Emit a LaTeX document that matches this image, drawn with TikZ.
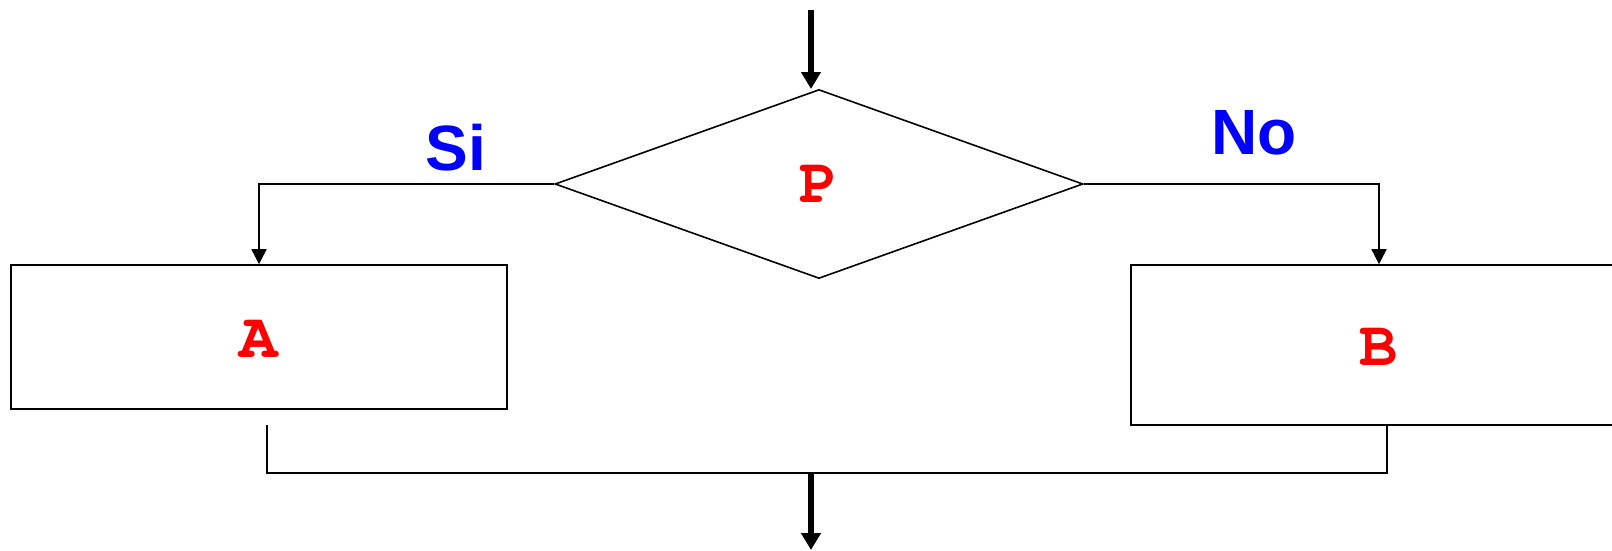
\documentclass[tikz,border=0pt]{standalone}
\usepackage{fontspec}
\newfontfamily\labfont{Liberation Sans}
\newfontfamily\codefont{texgyrecursor-bold.otf}
\usetikzlibrary{shapes.geometric,arrows.meta}
\tikzset{
  thin line/.style={line width=1.6pt},
  flow/.style={thin line,-{Triangle[length=15pt,width=15pt]}},
  mainflow/.style={line width=6pt,-{Triangle[length=17pt,width=19pt]}},
  decision/.style={diamond,draw,thin line,minimum width=528pt,minimum height=189pt,inner sep=0pt,aspect=2.79},
  procbox/.style={rectangle,draw,thin line,minimum width=496pt,inner sep=0pt},
  codetxt/.style={text=red,font=\codefont\fontsize{64}{64}\selectfont},
  branchlab/.style={text=blue,font=\labfont\bfseries\fontsize{64}{64}\selectfont,anchor=base,inner sep=0pt},
}
\begin{document}
\begin{tikzpicture}[x=1pt,y=-1pt]
\useasboundingbox (0,0) rectangle (1612,550);
\clip (0,0) rectangle (1612,550);
\fill[white] (0,0) rectangle (1612,550);
\node[decision] (P) at (819,184) {};
\node[codetxt,anchor=base] (Pt) at (819,202) {P};
\node[procbox,minimum height=144pt] (A) at (259,337) {};
\node[codetxt,anchor=base] (At) at (259,357) {A};
\node[procbox,minimum height=160pt] (B) at (1379,345) {};
\node[codetxt,anchor=base] (Bt) at (1379,365) {B};
\node[branchlab] (si) at (456,170) {Si};
\node[branchlab] (no) at (1254,154) {No};
\coordinate (start) at (811,10);
\coordinate (ptop) at (811,89);
\coordinate (aout) at (267,425);
\coordinate (bout) at (1387,425);
\coordinate (join) at (811,473);
\coordinate (stop) at (811,550);
\draw[mainflow] (start) -- (ptop);
\draw[flow] (P.west) -| (A.north);
\draw[flow] (P.east) -| (B.north);
\draw[thin line] (aout) |- (join) -| (bout);
\draw[mainflow] (join) -- (stop);
\end{tikzpicture}
\end{document}
